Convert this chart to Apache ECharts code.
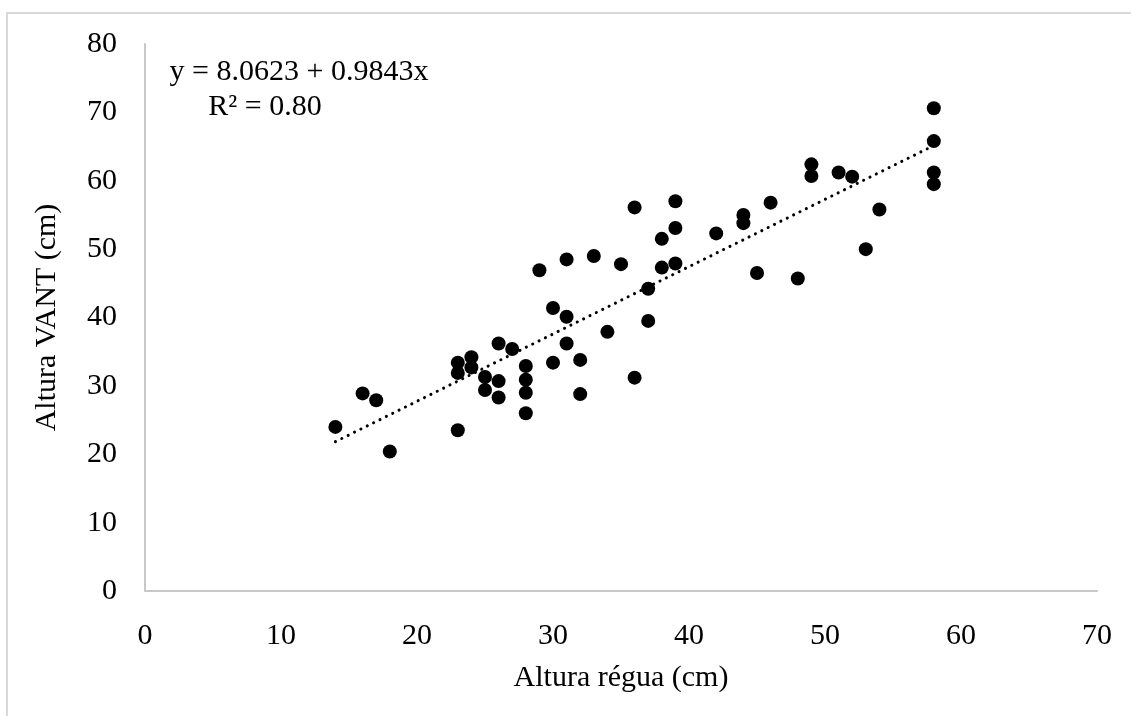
<!DOCTYPE html>
<html>
<head>
<meta charset="utf-8">
<script src="https://cdn.jsdelivr.net/npm/echarts@6/dist/echarts.min.js"></script>
<style>
html, body { margin: 0; padding: 0; background: #fff; }
#chart { width: 1131px; height: 716px; }
</style>
</head>
<body>
<div id="chart"></div>
<script>
// altura medida com régua (x) e pelo VANT (y), em cm
var reguaX = [14, 16, 17, 18, 23, 23, 23, 24, 24, 25, 25, 26, 26, 26, 27, 28, 28, 28, 28,
	29, 30, 30, 31, 31, 31, 32, 32, 33, 34, 35, 36, 36, 37, 37, 38, 38, 39, 39, 39,
	42, 44, 44, 45, 46, 48, 49, 49, 51, 52, 53, 54, 58, 58, 58, 58];
var vantY = [24.0, 28.9, 27.9, 20.4, 23.5, 33.4, 31.9, 34.2, 32.7, 31.3, 29.4, 36.2, 30.7, 28.3, 35.4, 32.9, 30.9, 29.0, 26.0,
	46.9, 41.4, 33.4, 48.5, 40.1, 36.2, 33.8, 28.8, 49.0, 37.9, 47.8, 56.1, 31.2, 44.2, 39.5, 51.5, 47.3, 57.0, 53.1, 47.9,
	52.3, 55.0, 53.8, 46.5, 56.8, 45.7, 62.4, 60.7, 61.2, 60.6, 50.0, 55.8, 70.6, 65.8, 61.2, 59.5];

// linha de tendência (equação mostrada no gráfico)
var intercepto = 8.0623;
var inclinacao = 0.9843;
var trendX = [14, 58];

var xTicks = [0, 10, 20, 30, 40, 50, 60, 70];
var yTicks = [0, 10, 20, 30, 40, 50, 60, 70, 80];

var pontos = [];
for (var i = 0; i < reguaX.length; i++) {
	pontos.push([reguaX[i], vantY[i]]);
}
var tendencia = [];
for (var j = 0; j < trendX.length; j++) {
	tendencia.push([trendX[j], intercepto + inclinacao * trendX[j]]);
}

var fonte = '"Liberation Serif", "Times New Roman", serif';
var chart = echarts.init(document.getElementById('chart'));

var option = {
	animation: false,
	backgroundColor: '#fff',
	textStyle: { fontFamily: fonte, color: '#000' },
	grid: { left: 145, right: 34, top: 44, bottom: 125, containLabel: false },
	graphic: [{
		type: 'rect',
		shape: { x: 7, y: 13, width: 1300, height: 900 },
		style: { fill: 'none', stroke: '#d9d9d9', lineWidth: 2 },
		silent: true
	}, {
		type: 'text',
		x: 299,
		y: 57,
		style: {
			text: 'y = 8.0623 + 0.9843x',
			font: '30px ' + fonte,
			fill: '#000',
			textAlign: 'center'
		}
	}, {
		type: 'text',
		x: 265,
		y: 92,
		style: {
			text: 'R² = 0.80',
			font: '30px ' + fonte,
			fill: '#000',
			textAlign: 'center'
		}
	}],
	xAxis: {
		type: 'value',
		min: 0,
		max: 70,
		interval: 10,
		name: 'Altura régua (cm)',
		nameLocation: 'middle',
		nameGap: 72,
		nameTextStyle: { fontFamily: fonte, fontSize: 30, color: '#000' },
		axisLine: { show: true, lineStyle: { color: '#c8c8c8', width: 2 } },
		axisTick: { show: false },
		splitLine: { show: false },
		axisLabel: {
			fontFamily: fonte, fontSize: 30, color: '#000', margin: 30,
			formatter: function (v) { return xTicks.indexOf(v) >= 0 ? String(v) : ''; }
		}
	},
	yAxis: {
		type: 'value',
		min: 0,
		max: 80,
		interval: 10,
		name: 'Altura VANT (cm)',
		nameLocation: 'middle',
		nameGap: 83,
		nameRotate: 90,
		nameTextStyle: { fontFamily: fonte, fontSize: 30, color: '#000' },
		axisLine: { show: true, lineStyle: { color: '#c8c8c8', width: 2 } },
		axisTick: { show: false },
		splitLine: { show: false },
		axisLabel: {
			fontFamily: fonte, fontSize: 30, color: '#000', margin: 28,
			formatter: function (v) { return yTicks.indexOf(v) >= 0 ? String(v) : ''; }
		}
	},
	series: [{
		type: 'line',
		data: tendencia,
		symbol: 'none',
		z: 3,
		lineStyle: { color: '#000', width: 3, type: [0.1, 7], cap: 'round' }
	}, {
		type: 'scatter',
		data: pontos,
		symbol: 'circle',
		symbolSize: 14,
		z: 4,
		itemStyle: { color: '#000', opacity: 1 }
	}]
};

chart.setOption(option);
</script>
</body>
</html>
